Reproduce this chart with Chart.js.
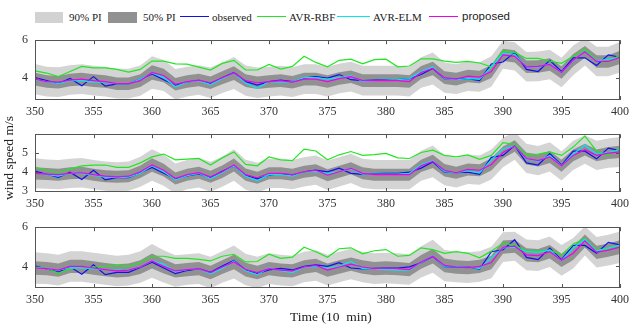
<!DOCTYPE html>
<html>
<head>
<meta charset="utf-8">
<script src="https://cdn.jsdelivr.net/npm/chart.js@4.4.0/dist/chart.umd.min.js"></script>
<style>
  body { margin: 0; width: 634px; height: 325px; background: #fff; position: relative; overflow: hidden;
         font-family: 'Liberation Serif', 'Times New Roman', serif; color: #222; }
  canvas { position: absolute; left: 0; }
  .sw { position: absolute; top: 12px; height: 11px; }
  .ln { position: absolute; top: 16px; height: 0; border-top: 1.5px solid; }
  .tx { position: absolute; top: 10px; font-size: 11px; line-height: 14px; white-space: nowrap; }
  #ylab { position: absolute; left: -51px; top: 150px; width: 120px; text-align: center; font-size: 13.5px;
          line-height: 16px; transform: rotate(-90deg); white-space: nowrap; }
  #xlab { position: absolute; left: 290px; top: 309px; font-size: 13.5px; line-height: 16px; white-space: pre; }
</style>
</head>
<body>
<div class="sw" style="left:35px;width:28px;background:#d2d2d2"></div>
<div class="tx" style="left:69px">90% PI</div>
<div class="sw" style="left:108px;width:29px;background:#919191"></div>
<div class="tx" style="left:143px">50% PI</div>
<div class="ln" style="left:180px;width:29px;border-color:#1010f0"></div>
<div class="tx" style="left:212px">observed</div>
<div class="ln" style="left:257px;width:29px;border-color:#22e622"></div>
<div class="tx" style="left:289px">AVR-RBF</div>
<div class="ln" style="left:337px;width:33px;border-color:#00e8f0"></div>
<div class="tx" style="left:373px">AVR-ELM</div>
<div class="ln" style="left:429px;width:29px;border-color:#f000f0"></div>
<div class="tx" style="left:462px;top:9px;font-family:'Liberation Sans',Arial,sans-serif;font-size:11.5px">proposed</div>

<canvas id="c1" width="634" height="96" style="top:26px"></canvas>
<canvas id="c2" width="634" height="94" style="top:120px"></canvas>
<canvas id="c3" width="634" height="97" style="top:213px"></canvas>

<div id="ylab">wind speed m/s</div>
<div id="xlab">Time (10  min)</div>

<script>
// time steps (10 min)
const times = [350,351,352,353,354,355,356,357,358,359,360,361,362,363,364,365,366,367,368,369,
  370,371,372,373,374,375,376,377,378,379,380,381,382,383,384,385,386,387,388,389,
  390,391,392,393,394,395,396,397,398,399,400];

// observed wind speed (same in all panels)
const observed = [4.03,3.87,3.71,3.98,3.60,4.08,3.58,3.70,3.70,3.95,4.22,3.92,3.63,3.79,3.89,3.70,4.02,4.30,3.82,3.63,
  3.82,3.90,3.82,4.00,4.08,4.00,4.19,3.92,3.87,3.90,3.92,3.92,3.98,4.19,4.51,3.98,3.95,3.98,3.87,4.75,
  4.85,5.36,4.46,4.35,4.94,4.35,5.07,5.07,4.67,5.23,5.10];

// panel 1
const rbf1 = [4.38,4.27,4.08,4.35,4.62,4.54,4.54,4.46,4.32,4.46,4.90,4.90,4.75,4.74,4.58,4.43,4.78,4.94,4.43,4.43,
  4.72,4.48,4.62,5.15,4.83,4.60,4.94,5.00,4.75,4.98,5.00,4.60,4.64,5.02,5.02,4.90,4.83,4.88,4.80,4.60,
  5.42,5.36,5.04,5.04,4.90,4.78,5.15,5.52,4.94,4.90,5.20];
const elm1 = [3.92,3.82,3.71,3.87,3.87,3.79,3.79,3.70,3.70,3.95,4.27,4.03,3.55,3.79,3.87,3.66,3.98,4.27,3.74,3.47,
  3.82,3.79,3.82,4.03,4.03,3.95,4.03,4.14,3.82,3.87,3.90,3.92,3.98,4.35,4.59,3.98,3.92,3.98,3.95,4.59,
  5.31,5.26,4.60,4.60,4.75,4.30,4.91,5.42,4.91,5.00,5.07];
const pro1 = [3.95,3.82,3.79,3.90,3.95,3.87,3.82,3.71,3.71,3.87,4.30,4.14,3.68,3.82,3.90,3.76,4.02,4.27,3.87,3.76,
  3.82,3.87,3.79,3.95,3.95,3.82,3.98,4.08,3.87,3.87,3.87,3.87,3.82,4.30,4.51,4.03,3.95,4.11,4.06,4.35,
  5.23,5.15,4.60,4.62,4.72,4.30,4.94,5.39,4.88,4.88,5.10];
const hw90_1 = [0.80,0.78,0.78,0.78,0.78,0.78,0.78,0.78,0.78,0.80,0.86,0.82,0.80,0.78,0.78,0.80,0.80,0.84,0.80,0.80,
  0.78,0.78,0.78,0.78,0.78,0.78,0.78,0.78,0.78,0.78,0.78,0.78,0.78,0.80,0.84,0.80,0.78,0.78,0.78,0.80,
  0.74,0.74,0.78,0.78,0.78,0.78,0.78,0.72,0.78,0.78,0.80];
const hw50_1 = [0.34,0.33,0.33,0.33,0.33,0.33,0.33,0.33,0.33,0.34,0.38,0.35,0.33,0.33,0.33,0.33,0.34,0.36,0.34,0.33,
  0.33,0.33,0.33,0.33,0.33,0.33,0.33,0.33,0.33,0.33,0.33,0.33,0.33,0.34,0.36,0.34,0.33,0.33,0.33,0.34,
  0.32,0.32,0.33,0.33,0.33,0.33,0.33,0.31,0.33,0.33,0.35];

// panel 2
const rbf2 = [4.23,4.08,3.95,4.15,4.31,4.34,4.35,4.23,4.23,4.46,4.77,4.92,4.62,4.66,4.69,4.35,4.72,5.03,4.38,4.31,
  4.77,4.62,4.58,5.18,5.08,4.62,4.88,5.05,4.85,4.89,4.95,4.72,4.69,5.00,5.12,4.85,4.77,4.88,4.65,4.85,
  5.51,5.43,4.88,4.92,5.03,4.85,5.28,5.85,5.08,4.85,5.23];
const elm2 = [3.95,3.85,3.77,3.92,3.92,3.82,3.72,3.69,3.72,3.92,4.31,4.00,3.58,3.80,3.92,3.65,3.95,4.31,3.77,3.54,
  3.85,3.85,3.77,4.00,4.00,3.92,4.00,4.15,3.88,3.88,3.88,3.88,3.92,4.38,4.57,4.00,3.95,4.05,3.95,4.62,
  5.18,5.34,4.66,4.54,4.85,4.31,4.92,5.38,4.92,5.00,5.15];
const pro2 = [3.92,3.88,3.85,3.92,3.95,3.85,3.77,3.74,3.77,4.00,4.35,4.08,3.65,3.85,3.95,3.74,4.00,4.35,3.85,3.69,
  3.92,3.92,3.85,4.00,4.08,3.82,4.00,4.18,3.92,3.85,3.85,3.85,3.85,4.31,4.54,4.08,3.95,4.12,4.08,4.38,
  5.00,5.34,4.69,4.58,4.77,4.31,4.85,5.15,4.85,4.97,5.03];
const hw90_2 = [0.78,0.76,0.76,0.76,0.76,0.76,0.76,0.76,0.76,0.78,0.82,0.80,0.78,0.76,0.76,0.78,0.78,0.82,0.78,0.78,
  0.76,0.76,0.76,0.76,0.76,0.76,0.76,0.76,0.76,0.76,0.76,0.76,0.76,0.78,0.82,0.78,0.76,0.76,0.76,0.78,
  0.76,0.72,0.76,0.76,0.76,0.76,0.76,0.74,0.76,0.76,0.78];
const hw50_2 = [0.32,0.31,0.31,0.31,0.31,0.31,0.31,0.31,0.31,0.32,0.35,0.33,0.31,0.31,0.31,0.31,0.32,0.34,0.32,0.31,
  0.31,0.31,0.31,0.31,0.31,0.31,0.31,0.31,0.31,0.31,0.31,0.31,0.31,0.32,0.34,0.32,0.31,0.31,0.31,0.32,
  0.31,0.30,0.31,0.31,0.31,0.31,0.31,0.30,0.31,0.31,0.32];

// panel 3
const rbf3 = [3.97,3.89,3.66,3.89,3.97,3.97,4.00,4.05,4.00,4.20,4.52,4.52,4.41,4.41,4.36,4.28,4.52,4.62,4.23,4.25,
  4.62,4.41,4.47,4.98,4.75,4.47,4.90,4.95,4.64,4.80,4.86,4.52,4.56,4.95,4.86,4.67,4.75,4.67,4.44,4.78,
  5.19,5.09,4.78,4.78,4.83,4.59,5.14,5.41,4.83,4.91,5.09];
const elm3 = [3.97,3.89,3.81,3.94,3.92,3.89,3.84,3.81,3.81,3.97,4.28,4.12,3.73,3.84,3.89,3.62,3.89,4.28,3.78,3.58,
  3.92,3.78,3.69,3.97,4.00,3.92,4.00,4.25,3.89,3.89,3.84,3.81,3.81,4.20,4.55,3.97,3.97,3.97,3.89,4.44,
  4.94,4.98,4.75,4.72,4.83,4.31,4.94,5.38,4.78,4.94,5.09];
const pro3 = [3.92,3.89,3.81,4.00,4.00,3.92,3.84,3.77,3.81,3.97,4.28,4.00,3.77,3.84,3.89,3.69,3.97,4.23,3.84,3.69,
  3.89,3.81,3.77,3.97,4.05,3.81,3.97,4.12,3.97,3.89,3.92,3.89,3.84,4.23,4.52,4.05,3.97,3.94,4.00,4.20,
  4.98,5.03,4.59,4.55,4.75,4.31,4.67,5.30,4.72,4.83,4.98];
const hw90_3 = [0.80,0.78,0.78,0.78,0.78,0.78,0.78,0.78,0.78,0.80,0.86,0.82,0.80,0.78,0.78,0.80,0.80,0.84,0.80,0.80,
  0.78,0.78,0.78,0.78,0.78,0.78,0.78,0.78,0.78,0.78,0.78,0.78,0.78,0.80,0.84,0.80,0.78,0.78,0.78,0.80,
  0.76,0.74,0.78,0.78,0.78,0.78,0.78,0.74,0.78,0.78,0.80];
const hw50_3 = [0.35,0.34,0.34,0.34,0.34,0.34,0.34,0.34,0.34,0.35,0.38,0.36,0.34,0.34,0.34,0.34,0.35,0.37,0.35,0.34,
  0.34,0.34,0.34,0.34,0.34,0.34,0.34,0.34,0.34,0.34,0.34,0.34,0.34,0.35,0.37,0.35,0.34,0.34,0.34,0.35,
  0.34,0.33,0.34,0.34,0.34,0.34,0.34,0.33,0.34,0.34,0.35];

const yTicks1 = [4, 6];
const yTicks2 = [3, 4, 5];
const yTicks3 = [4, 6];

const colors = { observed: '#1010f0', rbf: '#22e622', elm: '#00e8f0', proposed: '#f000f0',
                 pi90: '#d4d4d4', pi50: '#919191', axis: '#555', text: '#333' };

const pts = arr => arr.map((v, i) => ({ x: times[i], y: v }));
const band = (c, hw, sign) => c.map((v, i) => ({ x: times[i], y: v + sign * hw[i] }));

// box with inward tick marks, like the original figure
const boxTicks = {
  id: 'boxTicks',
  afterDraw(chart) {
    const { ctx, chartArea: a, scales: { x, y } } = chart;
    ctx.save();
    ctx.strokeStyle = colors.axis;
    ctx.lineWidth = 1;
    ctx.beginPath();
    x.ticks.forEach(t => {
      const px = Math.round(x.getPixelForValue(t.value)) + 0.5;
      ctx.moveTo(px, a.bottom); ctx.lineTo(px, a.bottom - 4);
      ctx.moveTo(px, a.top); ctx.lineTo(px, a.top + 4);
    });
    y.ticks.forEach(t => {
      const py = Math.round(y.getPixelForValue(t.value)) + 0.5;
      ctx.moveTo(a.left, py); ctx.lineTo(a.left + 4, py);
      ctx.moveTo(a.right, py); ctx.lineTo(a.right - 4, py);
    });
    ctx.stroke();
    ctx.strokeRect(Math.round(a.left) + 0.5, Math.round(a.top) + 0.5, Math.round(a.width) - 1, Math.round(a.height) - 1);
    ctx.restore();
  }
};

function makePanel(id, rbf, elm, pro, hw90, hw50, yMin, yMax, yTicks) {
  const line = (data, color, order) => ({
    data: pts(data), borderColor: color, borderWidth: 1.2, pointRadius: 0, fill: false, order
  });
  const edge = (data, fill, bg, order) => ({
    data, borderWidth: 0, pointRadius: 0, fill, backgroundColor: bg, order
  });

  new Chart(document.getElementById(id), {
    type: 'line',
    data: {
      datasets: [
        edge(band(pro, hw90, 1), 1, colors.pi90, 10),
        edge(band(pro, hw90, -1), false, colors.pi90, 10),
        edge(band(pro, hw50, 1), 3, colors.pi50, 9),
        edge(band(pro, hw50, -1), false, colors.pi50, 9),
        line(observed, colors.observed, 4),
        line(rbf, colors.rbf, 3),
        line(elm, colors.elm, 2),
        line(pro, colors.proposed, 1)
      ]
    },
    options: {
      responsive: false,
      animation: false,
      layout: { padding: { left: 0, right: 11, top: 8, bottom: 0 } },
      plugins: { legend: { display: false }, tooltip: { enabled: false } },
      elements: { line: { tension: 0 } },
      scales: {
        x: {
          type: 'linear', min: 350, max: 400,
          grid: { display: false, drawTicks: false },
          border: { display: false },
          ticks: { stepSize: 5, padding: 5, color: colors.text, maxRotation: 0,
                   font: { family: "'Liberation Serif', serif", size: 12 } },
          afterFit: s => { s.height = 22; }
        },
        y: {
          min: yMin, max: yMax,
          grid: { display: false, drawTicks: false },
          border: { display: false },
          ticks: { padding: 7, color: colors.text,
                   font: { family: "'Liberation Serif', serif", size: 12 } },
          afterBuildTicks: s => { s.ticks = yTicks.map(v => ({ value: v })); },
          afterFit: s => { s.width = 35; }
        }
      }
    },
    plugins: [boxTicks]
  });
}

makePanel('c1', rbf1, elm1, pro1, hw90_1, hw50_1, 2.85, 6, yTicks1);
makePanel('c2', rbf2, elm2, pro2, hw90_2, hw50_2, 2.95, 5.95, yTicks2);
makePanel('c3', rbf3, elm3, pro3, hw90_3, hw50_3, 2.9, 6, yTicks3);
</script>
</body>
</html>
